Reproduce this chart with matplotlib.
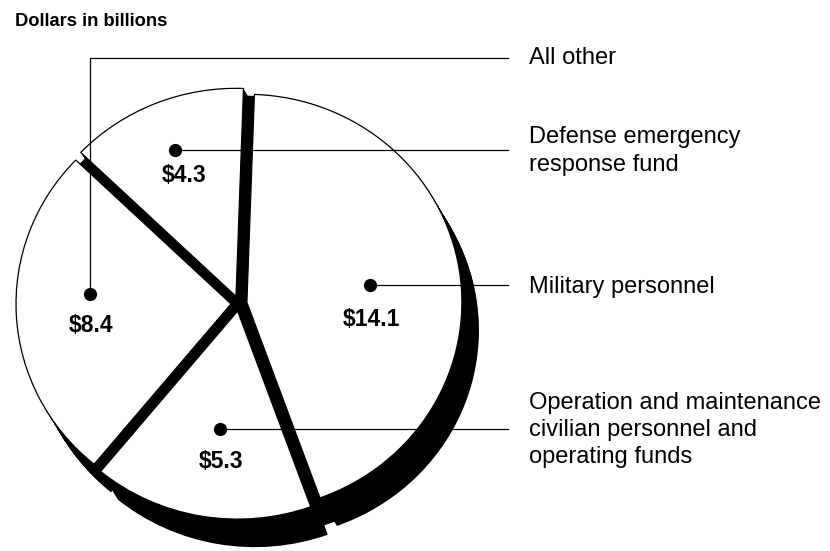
import matplotlib
matplotlib.use("Agg")
import matplotlib.pyplot as plt
import numpy as np

plt.rcParams['font.family'] = ['Liberation Sans', 'DejaVu Sans']

# data, clockwise from the top
names = ["Military personnel",
         "Operation and maintenance\ncivilian personnel and\noperating funds",
         "All other",
         "Defense emergency\nresponse fund"]
values = [14.1, 5.3, 8.4, 4.3]
value_labels = ["$14.1", "$5.3", "$8.4", "$4.3"]

# layout in pixels (y going down); the pie is a little wider than tall,
# so y pixels are divided by k to get data units
k = 208 / 215
cx, cy = 239, 303.5
R = 215
explode = [8, 8, 8, 8]
shadow_dx, shadow_dy = 17, 28

dot_xy = [(370, 285), (220, 429), (90, 294), (175, 150)]
value_xy = [(371, 320), (221, 462), (91, 326), (184, 175)]
name_y = [287, 430, 58, 151]
line_end = 508
text_x = 529


def Y(y):
    return y / k


fig = plt.figure(figsize=(8.3, 5.51), dpi=100)
ax = fig.add_axes([0, 0, 1, 1])

pie_kw = dict(startangle=-88, counterclock=True, radius=R)

# 3d-ish extrusion shadow, drawn as stacked black copies
for t in np.linspace(0, 1, 40):
    ax.pie(values, explode=explode,
           center=(cx + t * shadow_dx, Y(cy + t * shadow_dy)),
           colors=["black"] * 4, wedgeprops=dict(linewidth=0, zorder=1),
           **pie_kw)

# black base (not exploded) fills the gaps between slices
for t in np.linspace(0, 0.9, 25):
    ax.pie(values, center=(cx + t * shadow_dx, Y(cy + t * shadow_dy)),
           colors=["black"] * 4, wedgeprops=dict(linewidth=0, zorder=2),
           **pie_kw)

# white slices on top
wedges, _ = ax.pie(values, explode=explode, center=(cx, Y(cy)),
                   colors=["white"] * 4,
                   wedgeprops=dict(edgecolor="black", linewidth=0.9),
                   **pie_kw)
for w in wedges:
    w.set_zorder(3)

# leader lines, dots and labels
for i in range(len(values)):
    dx, dy = dot_xy[i]
    if i == 2:
        ax.plot([dx, dx, line_end], [Y(dy), Y(name_y[i]), Y(name_y[i])],
                color="black", lw=0.9, zorder=4)
    else:
        ax.plot([dx, line_end], [Y(dy), Y(dy)], color="black", lw=0.9,
                zorder=4)
    ax.plot(dx, Y(dy), "o", color="black", markersize=8.5, zorder=5)
    ax.text(value_xy[i][0], Y(value_xy[i][1]), value_labels[i],
            fontsize=16.5, fontweight="bold", ha="center", va="center",
            zorder=6)
    ax.text(text_x, Y(name_y[i]), names[i], fontsize=17, ha="left",
            va="center", linespacing=1.3, zorder=6)

ax.text(15, Y(21), "Dollars in billions", fontsize=13.2, fontweight="bold",
        ha="left", va="center")

ax.set_xlim(0, 830)
ax.set_ylim(Y(551), 0)
ax.set_aspect("auto")
ax.axis("off")

fig.savefig("out.png", dpi=100, facecolor="white")
